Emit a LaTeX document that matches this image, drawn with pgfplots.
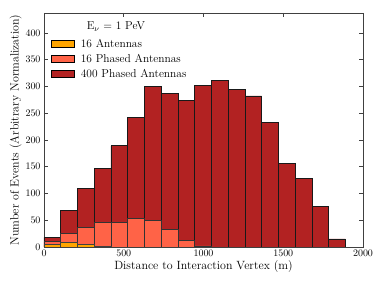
\documentclass[border=0pt]{standalone}
\usepackage{pgfplots}
\pgfplotsset{compat=1.18}
\definecolor{cOrange}{HTML}{FFA500}
\definecolor{cTomato}{HTML}{FF6347}
\definecolor{cFire}{HTML}{B22222}
\definecolor{axgray}{HTML}{404040}
\begin{document}
\begin{tikzpicture}
\begin{axis}[
  scale only axis, width=319bp, height=234bp,
  xmin=0, xmax=2000, ymin=0, ymax=437,
  xtick={0,500,1000,1500,2000},
  ytick={0,50,100,150,200,250,300,350,400},
  /pgf/number format/set thousands separator={},
  tick align=inside, major tick length=4bp,
  tick style={axgray, line width=0.6pt},
  axis line style={axgray, line width=0.8pt},
  ticklabel style={font=\fontsize{10}{11}\selectfont},
  label style={font=\fontsize{12}{13}\selectfont},
  xlabel={Distance to Interaction Vertex (m)},
  ylabel={Number of Events (Arbitrary Normalization)},
  xlabel style={yshift=3bp},
  ylabel style={yshift=-3bp},
  legend style={draw=none, fill=none, at={(0.02,0.895)}, anchor=north west,
    inner sep=0pt, font=\fontsize{11.5}{13}\selectfont, row sep=3bp,
    nodes={inner xsep=2.5bp, inner ysep=1.2bp},
    /tikz/every odd column/.append style={column sep=4bp}},
  legend cell align=left,
  legend image code/.code={\draw[#1, draw=black, line width=0.8pt] (0bp,-3.7bp) rectangle (23bp,3.7bp);},
]
\addlegendimage{fill=cOrange}
\addlegendentry{16 Antennas}
\addlegendimage{fill=cTomato}
\addlegendentry{16 Phased Antennas}
\addlegendimage{fill=cFire}
\addlegendentry{400 Phased Antennas}

\addplot[ybar interval, fill=cFire, draw=black!90, line width=0.8pt, forget plot] coordinates {
(0,18) (105,68) (210,110) (315,147) (420,189) (525,242) (630,299) (735,287) (840,273)
(945,302) (1050,311) (1155,294) (1260,282) (1365,232) (1470,156) (1575,128) (1680,76)
(1785,15) (1890,15)};
\addplot[ybar interval, fill=cTomato, draw=black!80, line width=0.8pt, forget plot] coordinates {
(0,10) (105,25) (210,36) (315,46) (420,46) (525,53) (630,49) (735,33) (840,12) (945,2) (1050,2)};
\addplot[ybar interval, fill=cOrange, draw=black!75, line width=0.8pt, forget plot] coordinates {
(0,4) (105,9) (210,4) (315,1) (420,1)};

\node[font=\fontsize{11.5}{13}\selectfont] at (axis cs:451,411) {E$_\nu$ = 1 PeV};
\end{axis}
\pgfresetboundingbox
\path (-44bp,-39bp) rectangle (338bp,247bp);
\end{tikzpicture}
\end{document}
